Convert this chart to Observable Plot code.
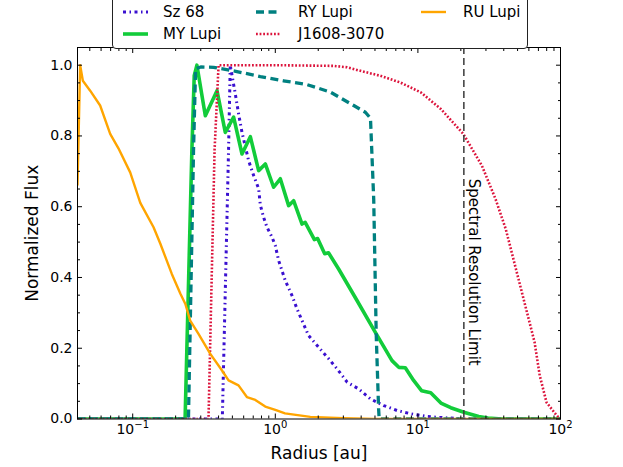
<!DOCTYPE html>
<html>
<head>
<meta charset="utf-8">
<script src="https://cdn.jsdelivr.net/npm/d3@7"></script>
<script src="https://cdn.jsdelivr.net/npm/@observablehq/plot@0.6"></script>
<style>
  html, body { margin: 0; padding: 0; background: #fff; }
  #wrap { position: relative; width: 623px; height: 467px; overflow: hidden; font-family: "DejaVu Sans", sans-serif; }
  #legend { position: absolute; left: 112px; top: -8px; width: 414px; height: 55px; border: 1px solid #222; border-radius: 4px; background: #fff; }
  .entry { position: absolute; display: flex; align-items: center; height: 20px; }
  .entry span { font-size: 15px; color: #000; white-space: nowrap; }
</style>
</head>
<body>
<div id="wrap">
  <div id="chart"></div>
  <div id="legend"></div>
</div>
<script>
// ---- data ----
const szR = [0.041, 0.425, 0.47, 0.483, 0.524, 0.553, 0.584, 0.65, 0.705, 0.764, 0.785, 0.828, 0.874, 0.948, 1.0, 1.055, 1.175, 1.31, 1.42, 1.71, 2.01, 2.37, 2.71, 3.19, 3.84, 4.64, 5.76, 7.14, 8.86, 11.6, 16.0, 23.4, 100];
const szF = [0, 0, 0.76, 1.0, 0.919, 0.862, 0.81, 0.73, 0.688, 0.651, 0.605, 0.57, 0.542, 0.514, 0.49, 0.448, 0.391, 0.349, 0.311, 0.236, 0.203, 0.17, 0.142, 0.104, 0.085, 0.057, 0.038, 0.024, 0.015, 0.007, 0.003, 0, 0];

const myR = [0.041, 0.233, 0.26, 0.27, 0.282, 0.323, 0.39, 0.446, 0.51, 0.584, 0.668, 0.764, 0.851, 0.973, 1.084, 1.24, 1.344, 1.54, 1.62, 1.88, 1.98, 2.22, 2.36, 2.78, 3.74, 5.03, 6.58, 7.34, 8.16, 9.33, 10.6, 12.3, 14.5, 17.0, 21.0, 26.7, 31, 39, 100];
const myF = [0, 0, 0.76, 0.97, 1.0, 0.857, 0.928, 0.81, 0.853, 0.749, 0.798, 0.702, 0.721, 0.655, 0.679, 0.603, 0.617, 0.551, 0.556, 0.507, 0.51, 0.467, 0.47, 0.424, 0.335, 0.245, 0.165, 0.146, 0.145, 0.109, 0.08, 0.074, 0.045, 0.032, 0.019, 0.007, 0.003, 0, 0];

const ryR = [0.041, 0.246, 0.267, 0.276, 0.30, 0.369, 0.538, 0.785, 1.14, 1.67, 2.43, 3.55, 4.28, 4.65, 4.9, 5.1, 5.3, 5.35, 100];
const ryF = [0, 0, 0.76, 0.99, 0.995, 0.994, 0.982, 0.968, 0.956, 0.945, 0.924, 0.886, 0.867, 0.85, 0.62, 0.24, 0.03, 0, 0];

const jR = [0.041, 0.34, 0.375, 0.40, 1.0, 2.57, 3.19, 3.95, 5.46, 7.54, 10.5, 14.5, 20.8, 28.1, 35.0, 41.3, 48.7, 57.4, 65.8, 71.5, 79.8, 94, 100];
const jF = [0, 0, 0.76, 1.0, 1.0, 0.998, 0.994, 0.984, 0.97, 0.951, 0.923, 0.876, 0.806, 0.716, 0.622, 0.537, 0.424, 0.311, 0.217, 0.123, 0.047, 0.01, 0];

const ruR = [0.041, 0.0428, 0.0447, 0.0503, 0.0591, 0.0695, 0.0794, 0.096, 0.113, 0.14, 0.156, 0.188, 0.216, 0.234, 0.253, 0.29, 0.35, 0.423, 0.47, 0.552, 0.632, 0.724, 0.85, 1.0, 1.17, 1.76, 3.0, 5.0, 100];
const ruF = [0.66, 1.0, 0.956, 0.928, 0.886, 0.806, 0.765, 0.697, 0.611, 0.542, 0.496, 0.41, 0.354, 0.325, 0.278, 0.24, 0.184, 0.137, 0.109, 0.095, 0.062, 0.054, 0.035, 0.026, 0.016, 0.006, 0.002, 0, 0];

const seriesNames = ["Sz 68", "MY Lupi", "RY Lupi", "J1608-3070", "RU Lupi"];
const limitRadius = [21];
const limitLabel = [{r: 21, f: 0.415, text: "Spectral Resolution Limit"}];

const xMajor = [0.1, 1, 10, 100];
const xMinor = [0.05, 0.06, 0.07, 0.08, 0.09, 0.2, 0.3, 0.4, 0.5, 0.6, 0.7, 0.8, 0.9, 2, 3, 4, 5, 6, 7, 8, 9, 20, 30, 40, 50, 60, 70, 80, 90];
const yMajor = [0, 0.2, 0.4, 0.6, 0.8, 1.0];
const yMinor = [0.05, 0.1, 0.15, 0.25, 0.3, 0.35, 0.45, 0.5, 0.55, 0.65, 0.7, 0.75, 0.85, 0.9, 0.95, 1.05];

// ---- styles ----
const styles = [
  {color: "#3a10d0", width: 3,   dash: "3,3.5,1.5,3.5"},
  {color: "#12cc3a", width: 3.6, dash: null},
  {color: "#008080", width: 3.3, dash: "8,4.5"},
  {color: "#dc143c", width: 2.6, dash: "1.8,1.8"},
  {color: "#ffa500", width: 2.4, dash: null}
];
const radii = [szR, myR, ryR, jR, ruR];
const fluxes = [szF, myF, ryF, jF, ruF];
const tables = radii.map((R, k) => R.map((r, i) => ({r, f: fluxes[k][i], name: seriesNames[k]})));

const expo = d => String(Math.round(Math.log10(d)));

const chart = Plot.plot({
  width: 623,
  height: 467,
  marginLeft: 77,
  marginRight: 63,
  marginTop: 47,
  marginBottom: 48.5,
  style: {fontFamily: "DejaVu Sans", fontSize: "14px", background: "#fff", color: "#000"},
  x: {type: "log", domain: [0.041, 100]},
  y: {domain: [0, 1.05]},
  marks: [
    ...tables.map((t, k) => Plot.line(t, {
      x: "r", y: "f", stroke: styles[k].color, strokeWidth: styles[k].width,
      strokeDasharray: styles[k].dash, strokeLinecap: "butt", clip: true
    })),
    Plot.ruleX(limitRadius, {stroke: "#3a3a3a", strokeWidth: 1.5, strokeDasharray: "7,4"}),
    Plot.text(limitLabel, {x: "r", y: "f", text: "text", rotate: 90, dx: 10, fontSize: 15, fill: "#000"}),
    Plot.frame({stroke: "#000", strokeWidth: 1}),
    Plot.axisX(xMajor, {anchor: "bottom", tickSize: -5, tickPadding: 10.5, tickFormat: d => "10^" + expo(d), fontSize: 14, label: null}),
    Plot.axisX(xMinor, {anchor: "bottom", tickSize: -3, text: null, label: null}),
    Plot.axisX(xMajor, {anchor: "top", tickSize: -5, text: null, label: null}),
    Plot.axisX(xMinor, {anchor: "top", tickSize: -3, text: null, label: null}),
    Plot.axisX([], {anchor: "bottom", tickSize: 0, label: "Radius [au]", labelAnchor: "center", labelArrow: "none", labelOffset: 40, fontSize: 17}),
    Plot.axisY(yMajor, {anchor: "left", tickSize: -5, tickPadding: 10, tickFormat: d3.format(".1f"), fontSize: 14, label: null}),
    Plot.axisY(yMinor, {anchor: "left", tickSize: -3, text: null, label: null}),
    Plot.axisY(yMajor, {anchor: "right", tickSize: -5, text: null, label: null}),
    Plot.axisY(yMinor, {anchor: "right", tickSize: -3, text: null, label: null}),
    Plot.axisY([], {anchor: "left", tickSize: 0, label: "Normalized Flux", labelAnchor: "center", labelArrow: "none", labelOffset: 52, fontSize: 17})
  ]
});
document.getElementById("chart").appendChild(chart);

// render "10^n" tick labels with a real superscript
const NS = "http://www.w3.org/2000/svg";
chart.querySelectorAll("text").forEach(t => {
  const s = t.textContent;
  if (!/^10\^-?\d+$/.test(s)) return;
  const e = s.split("^")[1].replace("-", "\u2212");
  t.textContent = "";
  const base = document.createElementNS(NS, "tspan");
  base.textContent = "10";
  const sp = document.createElementNS(NS, "tspan");
  sp.textContent = e;
  sp.setAttribute("font-size", "10");
  sp.setAttribute("dy", "-6");
  t.appendChild(base);
  t.appendChild(sp);
});

// ---- legend (HTML, overlaid at top) ----
const legend = document.getElementById("legend");
const colSample = [10, 143, 308];
const colText = [50, 185, 350];
const rowCenter = [18.7, 41.3];
seriesNames.forEach((name, i) => {
  const col = Math.floor(i / 2), row = i % 2;
  const s = styles[i];
  const sample = document.createElement("div");
  sample.className = "entry";
  sample.style.left = colSample[col] + "px";
  sample.style.top = (rowCenter[row] - 10) + "px";
  sample.innerHTML = `<svg width="25" height="20"><line x1="0" x2="25" y1="10" y2="10" stroke="${s.color}" stroke-width="${s.width}" ${s.dash ? `stroke-dasharray="${s.dash}"` : ""}/></svg>`;
  legend.appendChild(sample);
  const label = document.createElement("div");
  label.className = "entry";
  label.style.left = colText[col] + "px";
  label.style.top = (rowCenter[row] - 10) + "px";
  label.innerHTML = `<span>${name}</span>`;
  legend.appendChild(label);
});
</script>
</body>
</html>
